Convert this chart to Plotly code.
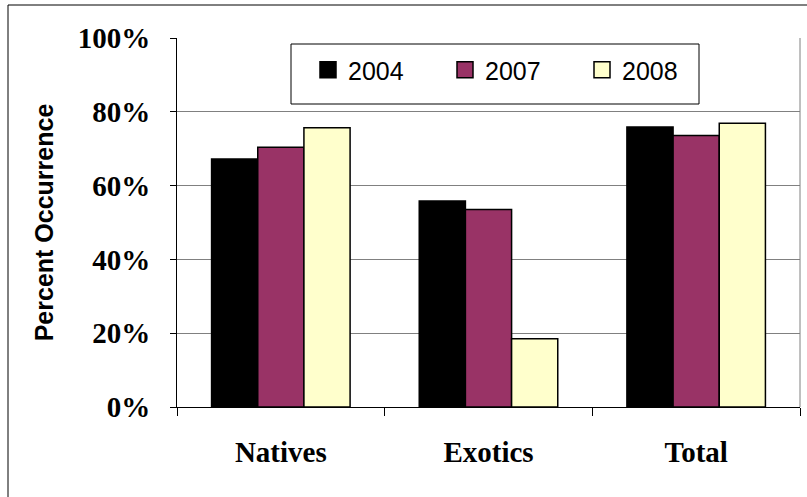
import plotly.graph_objects as go

categories = ["Natives", "Exotics", "Total"]
years = ["2004", "2007", "2008"]
values_2004 = [0.672, 0.558, 0.759]
values_2007 = [0.704, 0.535, 0.736]
values_2008 = [0.757, 0.185, 0.769]
colors = ["#000000", "#993366", "#FFFFCC"]
y_ticks = [0, 0.2, 0.4, 0.6, 0.8, 1.0]

series = [values_2004, values_2007, values_2008]

W, H = 807, 497
L, R, T, B = 177, 7, 38, 90

fig = go.Figure()
for name, vals, col in zip(years, series, colors):
    fig.add_trace(go.Bar(
        x=categories, y=vals, name=name, showlegend=False,
        marker=dict(color=col, line=dict(color="#000000", width=1.5)),
    ))
for name, col in zip(years, colors):
    fig.add_trace(go.Scatter(
        x=[None], y=[None], mode="markers", name=name,
        marker=dict(symbol="square", size=16, color=col,
                    line=dict(color="#000000", width=1.5)),
    ))

pw = W - L - R
ph = H - T - B

def px_x(x):
    return (x - L) / pw

def px_y(y):
    return (H - B - y) / ph

shapes = [
    # outer chart frame
    dict(type="rect", xref="paper", yref="paper",
         x0=px_x(8), x1=px_x(830), y0=px_y(520), y1=px_y(5),
         line=dict(color="#000000", width=1), layer="below"),
    # plot area border right
    dict(type="line", xref="paper", yref="paper", x0=1, x1=1, y0=0, y1=1,
         line=dict(color="#808080", width=1)),
    # legend box
    dict(type="rect", xref="paper", yref="paper",
         x0=px_x(291), x1=px_x(699), y0=px_y(104), y1=px_y(44),
         line=dict(color="#000000", width=1), fillcolor="white", layer="above"),
]

fig.update_layout(
    width=W, height=H,
    margin=dict(l=L, r=R, t=T, b=B, pad=0, autoexpand=False),
    paper_bgcolor="white", plot_bgcolor="white",
    barmode="group", bargap=0.333, bargroupgap=0,
    shapes=shapes,
    legend=dict(orientation="h", x=px_x(308), y=px_y(70), xanchor="left", yanchor="middle",
                font=dict(family="Liberation Sans, Arial", size=25, color="#000000"),
                bgcolor="rgba(0,0,0,0)", borderwidth=0,
                entrywidth=92, entrywidthmode="pixels"),
    font=dict(family="Liberation Serif, Times New Roman", color="#000000"),
)

fig.update_yaxes(
    range=[0, 1], tickvals=y_ticks, tickformat=".0%",
    automargin=False,
    showgrid=True, gridcolor="#808080", gridwidth=1,
    showline=True, linecolor="#000000", linewidth=1,
    ticks="outside", ticklen=6, tickcolor="#000000",
    tickfont=dict(family="Liberation Serif, Times New Roman", size=29,
                  color="#000000", weight="bold"),
    ticklabelstandoff=14,
    zeroline=False,
    title=dict(text="<b>Percent Occurrence</b>",
               font=dict(family="Liberation Sans, Arial", size=25, color="#000000"),
               standoff=16),
)
fig.update_xaxes(
    automargin=False,
    showline=True, linecolor="#000000", linewidth=1,
    ticks="outside", ticklen=8, tickcolor="#000000", tickson="boundaries",
    tickfont=dict(family="Liberation Serif, Times New Roman", size=29,
                  color="#000000", weight="bold"),
    ticklabelstandoff=19,
)

fig.write_html("out.html", config={"displayModeBar": False},
               post_script="document.body.style.margin='0px';document.body.style.overflow='hidden';")
